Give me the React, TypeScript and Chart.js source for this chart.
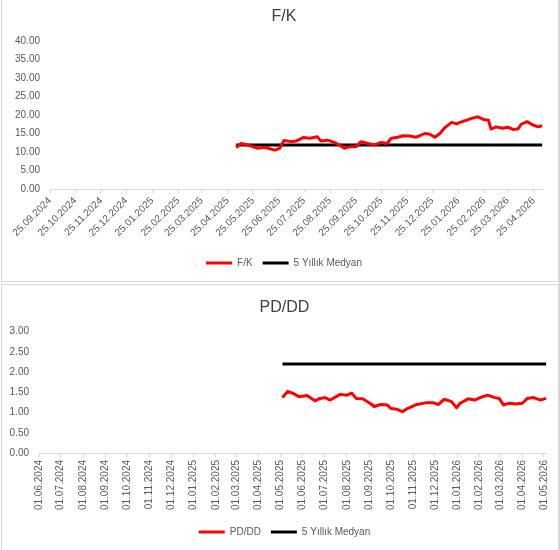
import React, { useEffect, useRef } from "react";
import { Chart, registerables } from "chart.js";

Chart.register(...registerables);

// ---------- F/K chart data ----------
const FK_DATES = [
  "05.05.2025", "11.05.2025", "19.05.2025", "31.05.2025", "08.06.2025", "20.06.2025", "26.06.2025",
  "01.07.2025", "10.07.2025", "16.07.2025", "24.07.2025", "01.08.2025", "10.08.2025", "14.08.2025",
  "22.08.2025", "30.08.2025", "05.09.2025", "11.09.2025", "17.09.2025", "25.09.2025", "01.10.2025",
  "09.10.2025", "17.10.2025", "25.10.2025", "01.11.2025", "06.11.2025", "14.11.2025", "20.11.2025",
  "28.11.2025", "06.12.2025", "16.12.2025", "22.12.2025", "28.12.2025", "03.01.2026", "09.01.2026",
  "17.01.2026", "23.01.2026", "27.01.2026", "04.02.2026", "10.02.2026", "17.02.2026", "24.02.2026",
  "02.03.2026", "05.03.2026", "11.03.2026", "19.03.2026", "25.03.2026", "31.03.2026", "06.04.2026",
  "10.04.2026", "17.04.2026", "24.04.2026", "30.04.2026", "05.05.2026",
];
const FK_VALUES = [
  11.2, 12.3, 11.9, 11.0, 11.3, 10.5, 11.0,
  13.1, 12.8, 13.0, 13.9, 13.7, 14.1, 13.0,
  13.2, 12.6, 11.9, 11.0, 11.4, 11.4, 12.8,
  12.3, 11.9, 12.6, 12.3, 13.7, 14.0, 14.4,
  14.3, 14.0, 15.0, 14.8, 14.0, 15.0, 16.6,
  18.0, 17.6, 18.0, 18.6, 19.1, 19.5, 18.8,
  18.6, 16.2, 16.8, 16.4, 16.7, 16.1, 16.2,
  17.5, 18.2, 17.3, 16.8, 17.1,
];
const FK_MEDIAN_DATES = ["05.05.2025", "05.05.2026"];
const FK_MEDIAN_VALUES = [11.9, 11.9];
const FK_AXIS_RANGE = ["25.09.2024", "06.05.2026"];
const FK_TICK_LABELS = [
  "25.09.2024", "25.10.2024", "25.11.2024", "25.12.2024", "25.01.2025", "25.02.2025", "25.03.2025",
  "25.04.2025", "25.05.2025", "25.06.2025", "25.07.2025", "25.08.2025", "25.09.2025", "25.10.2025",
  "25.11.2025", "25.12.2025", "25.01.2026", "25.02.2026", "25.03.2026", "25.04.2026",
];

// ---------- PD/DD chart data ----------
const PD_DATES = [
  "04.05.2025", "11.05.2025", "18.05.2025", "27.05.2025", "07.06.2025", "18.06.2025", "25.06.2025",
  "02.07.2025", "09.07.2025", "23.07.2025", "01.08.2025", "08.08.2025", "14.08.2025", "23.08.2025",
  "02.09.2025", "08.09.2025", "17.09.2025", "26.09.2025", "01.10.2025", "10.10.2025", "17.10.2025",
  "24.10.2025", "06.11.2025", "18.11.2025", "29.11.2025", "06.12.2025", "14.12.2025", "24.12.2025",
  "31.12.2025", "05.01.2026", "16.01.2026", "25.01.2026", "03.02.2026", "12.02.2026", "22.02.2026",
  "28.02.2026", "06.03.2026", "14.03.2026", "23.03.2026", "01.04.2026", "08.04.2026", "17.04.2026",
  "26.04.2026", "04.05.2026",
];
const PD_VALUES = [
  1.37, 1.52, 1.48, 1.39, 1.42, 1.29, 1.35,
  1.37, 1.31, 1.45, 1.43, 1.48, 1.35, 1.34,
  1.23, 1.15, 1.2, 1.19, 1.1, 1.08, 1.02,
  1.1, 1.2, 1.24, 1.24, 1.2, 1.33, 1.27,
  1.12, 1.23, 1.34, 1.31, 1.38, 1.43, 1.37,
  1.35, 1.19, 1.23, 1.21, 1.23, 1.35, 1.37,
  1.31, 1.35,
];
const PD_MEDIAN_DATES = ["04.05.2025", "04.05.2026"];
const PD_MEDIAN_VALUES = [2.2, 2.2];
const PD_AXIS_RANGE = ["01.06.2024", "05.05.2026"];
const PD_TICK_LABELS = [
  "01.06.2024", "01.07.2024", "01.08.2024", "01.09.2024", "01.10.2024", "01.11.2024", "01.12.2024",
  "01.01.2025", "01.02.2025", "01.03.2025", "01.04.2025", "01.05.2025", "01.06.2025", "01.07.2025",
  "01.08.2025", "01.09.2025", "01.10.2025", "01.11.2025", "01.12.2025", "01.01.2026", "01.02.2026",
  "01.03.2026", "01.04.2026", "01.05.2026",
];

const FONT = "'Liberation Sans', Arial, sans-serif";
const TEXT = "#595959";
const AXIS = "#d9d9d9";

function dayNum(s: string): number {
  const [d, m, y] = s.split(".").map(Number);
  return Date.UTC(y, m - 1, d) / 86400000;
}

function pts(dates: string[], values: number[]) {
  return dates.map((d, i) => ({ x: dayNum(d), y: values[i] }));
}

type Cfg = {
  title: string;
  seriesName: string;
  dates: string[];
  values: number[];
  medDates: string[];
  medValues: number[];
  range: string[];
  tickLabels: string[];
  yMax: number;
  yStep: number;
  rotation: number;
  yWidth: number;
  xHeight: number;
  pad: { left: number; right: number; top: number; bottom: number };
  titlePad: { top: number; bottom: number };
  xTickPad: number;
  centerShift: number;
};

function build(canvas: HTMLCanvasElement, c: Cfg) {
  const shiftPlugin = {
    id: "shiftCenter",
    afterLayout(chart: any) {
      for (const b of [chart.titleBlock, chart.legend]) {
        if (b) {
          b.left += c.centerShift;
          b.right += c.centerShift;
        }
      }
    },
  };
  return new Chart(canvas, {
    type: "line",
    data: {
      datasets: [
        {
          label: c.seriesName,
          data: pts(c.dates, c.values),
          borderColor: "#ff0000",
          backgroundColor: "#ff0000",
          borderWidth: 3,
          pointRadius: 0,
          tension: 0,
          borderJoinStyle: "round",
        },
        {
          label: "5 Yıllık Medyan",
          data: pts(c.medDates, c.medValues),
          borderColor: "#000000",
          backgroundColor: "#000000",
          borderWidth: 3,
          pointRadius: 0,
          tension: 0,
        },
      ],
    },
    plugins: [shiftPlugin],
    options: {
      responsive: false,
      animation: false,
      maintainAspectRatio: false,
      layout: { padding: c.pad },
      plugins: {
        title: {
          display: true,
          text: c.title,
          color: "#404040",
          font: { family: FONT, size: 16, weight: "normal" },
          padding: c.titlePad,
        },
        legend: {
          display: true,
          position: "bottom",
          labels: {
            usePointStyle: true,
            pointStyle: "line",
            pointStyleWidth: 26,
            color: TEXT,
            font: { family: FONT, size: 10 },
            padding: 10,
          },
        },
        tooltip: { enabled: false },
      },
      scales: {
        x: {
          type: "linear",
          min: dayNum(c.range[0]),
          max: dayNum(c.range[1]),
          afterBuildTicks: (scale: any) => {
            scale.ticks = c.tickLabels.map((s) => ({ value: dayNum(s) }));
          },
          afterFit: (scale: any) => {
            scale.height = c.xHeight;
          },
          ticks: {
            autoSkip: false,
            minRotation: c.rotation,
            maxRotation: c.rotation,
            color: TEXT,
            font: { family: FONT, size: 10 },
            padding: c.xTickPad,
            callback: (_v: any, i: number) => c.tickLabels[i],
          },
          grid: {
            display: true,
            drawOnChartArea: false,
            drawTicks: true,
            tickLength: 4,
            color: AXIS,
          },
          border: { display: true, color: AXIS, width: 1 },
        },
        y: {
          type: "linear",
          min: 0,
          max: c.yMax,
          afterFit: (scale: any) => {
            scale.width = c.yWidth;
          },
          ticks: {
            stepSize: c.yStep,
            color: TEXT,
            font: { family: FONT, size: 10 },
            padding: 10,
            callback: (v: any) => Number(v).toFixed(2),
          },
          grid: { display: false, drawTicks: false },
          border: { display: false },
        },
      },
    } as any,
  });
}

export default function App() {
  const topRef = useRef<HTMLCanvasElement>(null);
  const botRef = useRef<HTMLCanvasElement>(null);

  useEffect(() => {
    const a = build(topRef.current!, {
      title: "F/K",
      seriesName: "F/K",
      dates: FK_DATES,
      values: FK_VALUES,
      medDates: FK_MEDIAN_DATES,
      medValues: FK_MEDIAN_VALUES,
      range: FK_AXIS_RANGE,
      tickLabels: FK_TICK_LABELS,
      yMax: 40,
      yStep: 5,
      rotation: 45,
      yWidth: 50,
      xHeight: 59,
      pad: { left: 0, right: 16, top: 0, bottom: 4 },
      titlePad: { top: 6.5, bottom: 15.3 },
      xTickPad: 2,
      centerShift: 12.5,
    });
    const b = build(botRef.current!, {
      title: "PD/DD",
      seriesName: "PD/DD",
      dates: PD_DATES,
      values: PD_VALUES,
      medDates: PD_MEDIAN_DATES,
      medValues: PD_MEDIAN_VALUES,
      range: PD_AXIS_RANGE,
      tickLabels: PD_TICK_LABELS,
      yMax: 3,
      yStep: 0.5,
      rotation: 90,
      yWidth: 39,
      xHeight: 64,
      pad: { left: 0, right: 4, top: 0, bottom: 3 },
      titlePad: { top: 14, bottom: 14.5 },
      xTickPad: 3,
      centerShift: 7,
    });
    return () => {
      a.destroy();
      b.destroy();
    };
  }, []);

  return (
    <div style={{ position: "absolute", left: 0, top: 0, width: 559, height: 550, background: "#fff", overflow: "hidden" }}>
      <div style={{ position: "absolute", left: 1, top: -1, width: 556, height: 281, border: "1px solid #d9d9d9" }} />
      <div style={{ position: "absolute", left: 1, top: 284, width: 556, height: 280, border: "1px solid #d9d9d9" }} />
      <canvas ref={topRef} width={559} height={282} style={{ position: "absolute", left: 0, top: 0 }} />
      <canvas ref={botRef} width={559} height={266} style={{ position: "absolute", left: 0, top: 284 }} />
    </div>
  );
}
